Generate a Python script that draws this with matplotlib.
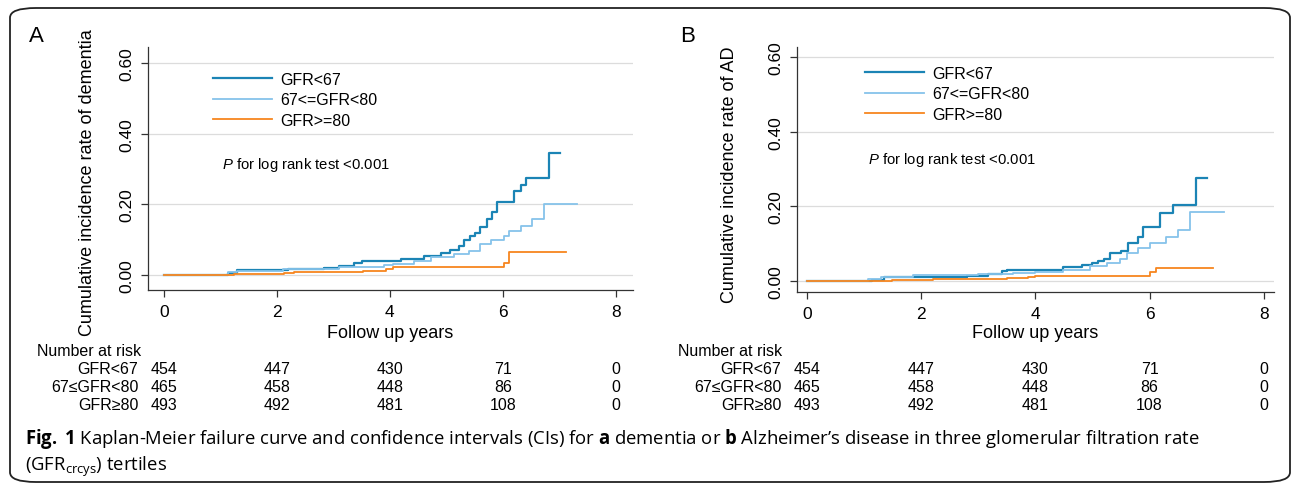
import matplotlib
matplotlib.use("Agg")
import matplotlib.pyplot as plt
from matplotlib.patches import FancyBboxPatch
from matplotlib.transforms import blended_transform_factory

plt.rcParams['font.family'] = ['Liberation Sans', 'DejaVu Sans']
plt.rcParams['mathtext.fontset'] = 'custom'
plt.rcParams['mathtext.rm'] = 'Open Sans'
plt.rcParams['mathtext.bf'] = 'Open Sans:bold'
plt.rcParams['mathtext.it'] = 'Liberation Sans:italic'

# ---- data ----
groups = ['GFR<67', '67<=GFR<80', 'GFR>=80']
risk_labels = ['GFR<67', '67≤GFR<80', 'GFR≥80']
risk_times = [0, 2, 4, 6, 8]
risk_counts = [[454, 447, 430, 71, 0],
               [465, 458, 448, 86, 0],
               [493, 492, 481, 108, 0]]

# panel A: dementia
a_lt67_t = [0, 1.14, 1.30, 2.20, 2.84, 3.10, 3.37, 3.50, 4.20, 4.60, 4.90, 5.07, 5.22,
            5.31, 5.41, 5.51, 5.60, 5.71, 5.80, 5.90, 6.20, 6.31, 6.41, 6.82, 7.01]
a_lt67_v = [0, 0.005, 0.014, 0.016, 0.020, 0.025, 0.033, 0.040, 0.047, 0.055, 0.062, 0.070,
            0.082, 0.098, 0.110, 0.120, 0.135, 0.160, 0.178, 0.206, 0.239, 0.256, 0.276,
            0.344, 0.344]
a_mid_t = [0, 1.13, 1.30, 2.10, 3.10, 3.90, 4.05, 4.42, 4.72, 5.13, 5.39, 5.60, 5.78,
           6.01, 6.10, 6.31, 6.52, 6.72, 7.31]
a_mid_v = [0, 0.008, 0.013, 0.017, 0.022, 0.028, 0.031, 0.040, 0.050, 0.059, 0.068, 0.087,
           0.099, 0.110, 0.124, 0.138, 0.160, 0.200, 0.200]
a_ge80_t = [0, 1.25, 2.13, 2.30, 3.52, 3.93, 4.05, 6.01, 6.10, 7.12]
a_ge80_v = [0, 0.003, 0.007, 0.009, 0.012, 0.018, 0.024, 0.034, 0.065, 0.065]

# panel B: AD
b_lt67_t = [0, 1.14, 1.35, 2.80, 3.17, 3.41, 3.50, 4.48, 4.82, 4.99, 5.10, 5.20, 5.31,
            5.50, 5.62, 5.80, 5.89, 6.18, 6.41, 6.81, 7.00]
b_lt67_v = [0, 0.004, 0.010, 0.013, 0.019, 0.027, 0.031, 0.037, 0.043, 0.048, 0.054, 0.059,
            0.075, 0.080, 0.102, 0.118, 0.145, 0.182, 0.204, 0.276, 0.276]
b_mid_t = [0, 1.07, 1.30, 1.86, 3.00, 3.60, 4.00, 4.48, 4.96, 5.25, 5.48, 5.60, 5.80,
           6.00, 6.29, 6.50, 6.71, 7.30]
b_mid_v = [0, 0.006, 0.012, 0.016, 0.018, 0.022, 0.024, 0.029, 0.040, 0.048, 0.059, 0.075,
           0.088, 0.102, 0.118, 0.137, 0.185, 0.185]
b_ge80_t = [0, 1.49, 2.20, 3.50, 3.87, 4.00, 6.00, 6.11, 7.11]
b_ge80_v = [0, 0.003, 0.006, 0.008, 0.011, 0.014, 0.024, 0.035, 0.035]

colors = ['#1b84b5', '#86c3ea', '#f7861f']
widths = [1.6, 1.3, 1.3]

W, H = 1292, 485
fig = plt.figure(figsize=(W / 100, H / 100), dpi=100)


def px_axes(l, r, t, b):
    return fig.add_axes([l / W, 1 - b / H, (r - l) / W, (b - t) / H])


def draw_panel(ax, curves, ylabel, ylab_xy, xlim, ylim, leg_xy, ptext_xy, letter_xy, letter,
               table_x0):
    for (t, v), c, lw, g in zip(curves, colors, widths, groups):
        ax.step(t, v, where='post', color=c, lw=lw, label=g)
    ax.set_xlim(*xlim)
    ax.set_ylim(*ylim)
    ax.set_xticks([0, 2, 4, 6, 8])
    ax.set_yticks([0, 0.2, 0.4, 0.6])
    ax.set_yticklabels(['0.00', '0.20', '0.40', '0.60'], rotation=90, va='center')
    ax.tick_params(axis='both', labelsize=12.5, length=5, width=0.9, color='#333333', pad=5)
    ax.grid(axis='y', color='#dcdcdc', lw=0.9)
    ax.set_axisbelow(True)
    for s in ['top', 'right']:
        ax.spines[s].set_visible(False)
    for s in ['left', 'bottom']:
        ax.spines[s].set_color('#333333')
        ax.spines[s].set_linewidth(0.9)
    ax.set_xlabel('Follow up years', fontsize=13)
    ax.set_ylabel(ylabel, fontsize=13)
    bb = ax.get_position()
    ax.yaxis.set_label_coords((ylab_xy[0] / W - bb.x0) / bb.width,
                              ((1 - ylab_xy[1] / H) - bb.y0) / bb.height)
    ax.xaxis.set_label_coords(0.5, ((1 - 325 / H) - bb.y0) / bb.height)

    ax.legend(loc='upper left', bbox_to_anchor=(leg_xy[0] / W, 1 - leg_xy[1] / H),
              bbox_transform=fig.transFigure, frameon=False, fontsize=11.5,
              handlelength=3.7, handletextpad=0.5, labelspacing=0.33,
              borderpad=0, borderaxespad=0)
    fig.text(ptext_xy[0] / W, 1 - ptext_xy[1] / H, r'$P$ for log rank test <0.001',
             fontsize=10.7, va='center', ha='left')
    fig.text(letter_xy[0] / W, 1 - letter_xy[1] / H, letter, fontsize=16,
             va='center', ha='left')

    tr = blended_transform_factory(ax.transData, fig.transFigure)
    fig.text(table_x0 / W, 1 - 352 / H, 'Number at risk', fontsize=11.5, va='center', ha='left')
    for row, (lab, counts) in enumerate(zip(risk_labels, risk_counts)):
        yy = 1 - (370 + row * 17.8) / H
        ax.text(-0.45, yy, lab, transform=tr, fontsize=11.5, va='center', ha='right',
                clip_on=False)
        for tx, n in zip(risk_times, counts):
            ax.text(tx, yy, str(n), transform=tr, fontsize=11.5, va='center', ha='center',
                    clip_on=False)


axA = px_axes(148, 633, 48, 291)
draw_panel(axA, [(a_lt67_t, a_lt67_v), (a_mid_t, a_mid_v), (a_ge80_t, a_ge80_v)],
           'Cumulative incidence rate of dementia', (96, 183), (-0.28, 8.3), (-0.042, 0.645),
           (213, 73), (222, 165), (29, 37), 'A', 37)

axB = px_axes(797, 1274, 48, 293)
draw_panel(axB, [(b_lt67_t, b_lt67_v), (b_mid_t, b_mid_v), (b_ge80_t, b_ge80_v)],
           'Cumulative incidence rate of AD', (738, 175), (-0.175, 8.18), (-0.029, 0.627),
           (865, 67), (868, 160), (680, 37), 'B', 678)

# caption
fig.text(25 / W, 1 - 439 / H,
         r'$\bf{Fig.}$ $\bf{1}$ Kaplan-Meier failure curve and confidence intervals (CIs) for '
         r'$\bf{a}$ dementia or $\bf{b}$ Alzheimer’s disease in three glomerular filtration rate',
         fontsize=13.35, va='center', ha='left', family='Open Sans')
fig.text(25 / W, 1 - 467 / H, r'(GFR$_{\rm crcys}$) tertiles',
         fontsize=13.35, va='center', ha='left', family='Open Sans')

# rounded border around the whole figure
box = FancyBboxPatch((10 / W, 1 - 483 / H), (1290 - 10) / W, (483 - 9) / H,
                     boxstyle='round,pad=0,rounding_size=0.02', transform=fig.transFigure,
                     fill=False, ec='#222222', lw=1.3)
fig.patches.append(box)

fig.savefig('out.png', dpi=100)
